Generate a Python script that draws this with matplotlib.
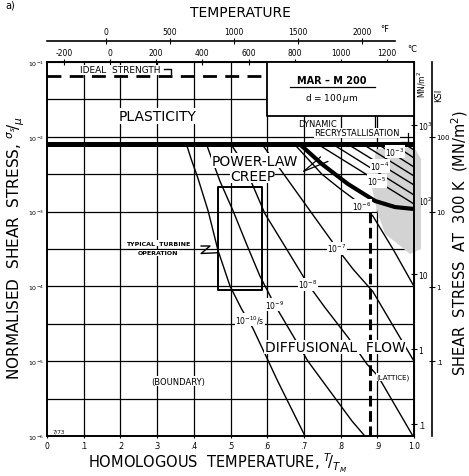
import matplotlib
matplotlib.use("Agg")
import matplotlib.pyplot as plt
import numpy as np
from matplotlib.ticker import NullLocator

plt.rcParams['font.family'] = ['DejaVu Sans']
plt.rcParams['mathtext.fontset'] = 'dejavusans'

TM = 1590.0          # melting point, K
MU = 10 ** 4.84      # shear modulus at 300 K, MN/m^2
MN_PER_KSI = 6.895

# grid
grid_x = [0.1, 0.2, 0.3, 0.4, 0.5, 0.6, 0.7, 0.8, 0.9]
grid_logs = [-1.5, -2.0, -2.5, -3.0, -3.5, -4.0, -4.5, -5.0, -5.5]

x_ticks = [0.0, 0.1, 0.2, 0.3, 0.4, 0.5, 0.6, 0.7, 0.8, 0.9, 1.0]
x_labels = ["0", ".1", ".2", ".3", ".4", ".5", ".6", ".7", ".8", ".9", "1.0"]
y_ticks = [1e-1, 1e-2, 1e-3, 1e-4, 1e-5, 1e-6]
y_labels = [r"$10^{-1}$", r"$10^{-2}$", r"$10^{-3}$", r"$10^{-4}$", r"$10^{-5}$", r"$10^{-6}$"]
c_ticks = [-200, 0, 200, 400, 600, 800, 1000, 1200]
f_ticks = [0, 500, 1000, 1500, 2000]
mn_ticks = [1e3, 1e2, 10, 1, 0.1]
mn_labels = [r"$10^3$", r"$10^2$", "10", "1", ".1"]
ksi_ticks = [100, 10, 1, 0.1, 0.01]
ksi_labels = ["100", "10", "1", ".1", ".01"]

# field boundaries (T/TM, log10 sigma_s/mu)
ideal_strength = -1.19
ideal_end = 0.594
plasticity_limit = -2.10
breakdown_x = [0.689, 0.749, 0.820, 0.894, 0.948, 1.0]
breakdown_s = [-2.10, -2.364, -2.631, -2.858, -2.939, -2.965]
lattice_x = 0.88
lattice_top = -3.0

# strain-rate contours, 1/s
rate_1e10 = [(0.380, -2.10), (0.393, -2.30), (0.411, -2.55), (0.439, -2.99), (0.466, -3.52),
             (0.499, -4.00), (0.530, -4.30), (0.561, -4.56), (0.630, -5.28), (0.703, -6.0)]
rate_1e9 = [(0.436, -2.12), (0.471, -2.59), (0.507, -2.99), (0.545, -3.45), (0.580, -3.86),
            (0.621, -4.25), (0.668, -4.64), (0.711, -5.0), (0.777, -5.44), (0.831, -5.80),
            (0.866, -6.0)]
rate_1e8 = [(0.504, -2.12), (0.531, -2.32), (0.559, -2.63), (0.594, -3.03), (0.649, -3.47),
            (0.711, -3.97), (0.757, -4.28), (0.820, -4.68), (0.872, -5.04), (0.902, -5.20),
            (0.997, -6.0)]
rate_1e7 = [(0.589, -2.12), (0.635, -2.43), (0.708, -2.93), (0.790, -3.49), (0.834, -3.77),
            (0.888, -4.07), (1.0, -5.0)]
rate_1e6 = [(0.680, -2.13), (0.749, -2.50), (0.800, -2.70), (0.855, -2.90), (0.888, -3.06),
            (0.945, -3.52), (1.0, -4.0)]

# fast contours crowding the power-law breakdown band
band_start = [0.738, 0.779, 0.820, 0.861, 0.902, 0.943, 0.975]
band_end = [-2.898, -2.778, -2.644, -2.524, -2.404, -2.283, -2.176]

grey_x = [0.896, 1.0, 1.019, 1.019, 0.989, 0.956, 0.921, 0.902, 0.886]
grey_s = [-2.163, -2.136, -2.297, -3.50, -3.567, -3.433, -3.30, -3.032, -2.698]

# typical turbine operation window
turbine_x = [0.466, 0.586]
turbine_s = [-2.67, -4.05]

fig = plt.figure(figsize=(4.69, 4.77), dpi=100)
ax = fig.add_axes([47 / 469, 40 / 477, 367 / 469, 374 / 477])
ax.set_xlim(0, 1)
ax.set_yscale('log')
ax.set_ylim(1e-6, 1e-1)

for gx in grid_x:
    ax.axvline(gx, color='black', lw=0.9, zorder=1)
for gs in grid_logs:
    ax.axhline(10 ** gs, color='black', lw=0.9, zorder=1)

# material box, top right
ax.fill_between([0.6, 1.0], 10 ** -1.722, 1e-1, facecolor='white', edgecolor='black',
                lw=1.3, zorder=3)
ax.plot([0.662, 0.894], [10 ** -1.334] * 2, color='black', lw=0.9, zorder=4)
ax.text(0.777, 10 ** -1.24, "MAR – M 200", ha='center', va='center', fontsize=7,
        fontweight='bold', zorder=4)
ax.text(0.777, 10 ** -1.48, r"d = 100$\,\mu$m", ha='center', va='center', fontsize=6.5,
        zorder=4)

# ideal strength
ax.plot([0, ideal_end], [10 ** ideal_strength] * 2, color='black', lw=2.0,
        dashes=(5, 3), zorder=3)
ax.text(0.20, 10 ** -1.105, "IDEAL  STRENGTH", ha='center', va='center', fontsize=6.5,
        zorder=4, bbox=dict(facecolor='white', edgecolor='none', pad=0.5))
ax.plot([0.318, 0.338, 0.338], [10 ** -1.10, 10 ** -1.10, 10 ** -1.16], color='black',
        lw=1.0, zorder=4)

# plasticity limit and power-law breakdown
ax.plot([0, 1], [10 ** plasticity_limit] * 2, color='black', lw=3.6, zorder=5,
        solid_capstyle='butt')
ax.fill(grey_x, 10 ** np.array(grey_s), facecolor='#d3d3d3', edgecolor='none', zorder=2,
        clip_on=False)
for xs, se in zip(band_start, band_end):
    ax.plot([xs, 1.0], [10 ** plasticity_limit, 10 ** se], color='black', lw=1.0, zorder=3)
ax.plot(breakdown_x, 10 ** np.array(breakdown_s), color='black', lw=3.0, zorder=5,
        solid_capstyle='butt')

for pts in [rate_1e10, rate_1e9, rate_1e8, rate_1e7, rate_1e6]:
    px, ps = zip(*pts)
    ax.plot(px, 10 ** np.array(ps), color='black', lw=1.0, zorder=3)

ax.plot([lattice_x, lattice_x], [10 ** lattice_top, 1e-6], color='black', lw=2.2,
        dashes=(3.5, 1.5), zorder=4)

ax.fill_between(turbine_x, 10 ** turbine_s[1], 10 ** turbine_s[0], facecolor='none',
                edgecolor='black', lw=1.4, zorder=4)
ax.plot([0.420, 0.444, 0.420, 0.466], [10 ** -3.46, 10 ** -3.46, 10 ** -3.56, 10 ** -3.55],
        color='black', lw=1.0, zorder=4)

# dynamic recrystallisation marks
ax.plot([0.894, 0.894], [10 ** -1.722, 10 ** -1.90], color='black', lw=0.9, zorder=4)
ax.plot([0.985, 0.985, 0.965], [10 ** -1.95, 10 ** -2.07, 10 ** -2.07], color='black',
        lw=0.9, zorder=4)

# power-law leaders
ax.plot([0.700, 0.765], [10 ** -2.46, 10 ** -2.33], color='black', lw=0.9, zorder=4)
ax.plot([0.700, 0.745], [10 ** -2.46, 10 ** -2.27], color='black', lw=0.9, zorder=4)

wbox = dict(facecolor='white', edgecolor='none', pad=0.6)
ax.text(0.30, 10 ** -1.72, "PLASTICITY", ha='center', va='center', fontsize=10, zorder=6,
        bbox=wbox)
ax.text(0.565, 10 ** -2.32, "POWER-LAW", ha='center', va='center', fontsize=10, zorder=6,
        bbox=dict(facecolor='white', edgecolor='none', pad=0.2))
ax.text(0.560, 10 ** -2.52, "CREEP", ha='center', va='center', fontsize=10, zorder=6,
        bbox=dict(facecolor='white', edgecolor='none', pad=0.2))
ax.text(0.785, 10 ** -4.81, "DIFFUSIONAL  FLOW", ha='center', va='center', fontsize=10,
        zorder=6, bbox=dict(facecolor='white', edgecolor='none', pad=0.2))
ax.text(0.357, 10 ** -5.265, "(BOUNDARY)", ha='center', va='center', fontsize=6, zorder=6,
        bbox=wbox)
ax.text(0.942, 10 ** -5.21, "(LATTICE)", ha='center', va='center', fontsize=5, zorder=6,
        bbox=dict(facecolor='white', edgecolor='none', pad=0.3))
ax.text(0.738, 10 ** -1.816, "DYNAMIC", ha='center', va='center', fontsize=6, zorder=6)
ax.text(0.845, 10 ** -1.949, "RECRYSTALLISATION", ha='center', va='center', fontsize=6,
        zorder=6, bbox=dict(facecolor='white', edgecolor='none', pad=0.3))
ax.text(0.302, 10 ** -3.42, "TYPICAL  TURBINE", ha='center', va='center', fontsize=4.5,
        fontweight='bold', zorder=6, bbox=dict(facecolor='white', edgecolor='none', pad=0.4))
ax.text(0.302, 10 ** -3.553, "OPERATION", ha='center', va='center', fontsize=4.5,
        fontweight='bold', zorder=6, bbox=dict(facecolor='white', edgecolor='none', pad=0.4))
ax.text(0.033, 10 ** -5.93, "7/73", ha='center', va='center', fontsize=4, zorder=6)

rate_labels = [(0.553, -4.44, r"$10^{-10}$/s"), (0.621, -4.24, r"$10^{-9}$"),
               (0.711, -3.97, r"$10^{-8}$"), (0.790, -3.49, r"$10^{-7}$"),
               (0.858, -2.92, r"$10^{-6}$"), (0.898, -2.59, r"$10^{-5}$"),
               (0.907, -2.39, r"$10^{-4}$"), (0.948, -2.20, r"$10^{-3}$")]
for lx, ls, lt in rate_labels:
    ax.text(lx, 10 ** ls, lt, ha='center', va='center', fontsize=5.5, zorder=6,
            bbox=dict(facecolor='white', edgecolor='none', pad=0.3))

# main axes ticks
ax.set_xticks(x_ticks, labels=x_labels)
ax.set_yticks(y_ticks, labels=y_labels)
ax.yaxis.set_minor_locator(NullLocator())
ax.tick_params(labelsize=5.5, length=3, width=0.8, direction='inout', pad=2)
ax.tick_params(axis='y', labelsize=4.5, length=2, pad=1)
for sp in ax.spines.values():
    sp.set_linewidth(1.4)

# temperature scales along the top
sec_c = ax.secondary_xaxis('top', functions=(lambda t: t * TM - 273.15,
                                             lambda c: (c + 273.15) / TM))
sec_c.set_xticks(c_ticks, labels=[str(c) for c in c_ticks])
sec_c.tick_params(labelsize=5.5, length=5, width=0.8, direction='inout', pad=1)

sec_f = ax.secondary_xaxis(1.056, functions=(lambda t: (t * TM - 273.15) * 9 / 5 + 32,
                                             lambda f: ((f - 32) * 5 / 9 + 273.15) / TM))
sec_f.set_xticks(f_ticks, labels=[str(f) for f in f_ticks])
sec_f.tick_params(labelsize=5.5, length=5, width=0.8, direction='inout', pad=1)
sec_f.spines['top'].set_bounds(-459.67, 2255)
sec_f.spines['top'].set_linewidth(1.2)

# stress scales at 300 K on the right
sec_mn = ax.secondary_yaxis('right', functions=(lambda s: s * MU, lambda m: m / MU))
sec_mn.set_yticks(mn_ticks, labels=mn_labels)
sec_mn.yaxis.set_minor_locator(NullLocator())
sec_mn.tick_params(labelsize=5.5, length=4, width=0.8, direction='inout', pad=1)

sec_k = ax.secondary_yaxis(1.049, functions=(lambda s: s * MU / MN_PER_KSI,
                                            lambda k: k * MN_PER_KSI / MU))
sec_k.set_yticks(ksi_ticks, labels=ksi_labels)
sec_k.yaxis.set_minor_locator(NullLocator())
sec_k.tick_params(labelsize=5, length=4, width=0.8, direction='inout', pad=1)
sec_k.spines['right'].set_linewidth(1.2)

# outer labels
fig.text(240 / 469, 1 - 13 / 477, "TEMPERATURE", ha='center', va='center', fontsize=10)
fig.text(385 / 469, 1 - 30 / 477, "°F", ha='center', va='center', fontsize=6)
fig.text(412 / 469, 1 - 50 / 477, "°C", ha='center', va='center', fontsize=6)
fig.text(422 / 469, 1 - 84 / 477, r"MN/m$^2$", ha='center', va='center', fontsize=5.5,
         rotation=90)
fig.text(439 / 469, 1 - 95 / 477, "KSI", ha='center', va='center', fontsize=6, rotation=90)
fig.text(10 / 469, 1 - 6 / 477, "a)", ha='center', va='center', fontsize=7)
fig.text(218 / 469, 1 - 463 / 477, r"HOMOLOGOUS  TEMPERATURE, $^{T}\!/_{T_M}$",
         ha='center', va='center', fontsize=10.5)
fig.text(16 / 469, 1 - 248 / 477, r"NORMALISED  SHEAR  STRESS, $^{\sigma_s}\!/_{\mu}$",
         ha='center', va='center', fontsize=11, rotation=90)
fig.text(460 / 469, 1 - 243 / 477, r"SHEAR  STRESS  AT  300 K  (MN/m$^2$)",
         ha='center', va='center', fontsize=10.5, rotation=90)

fig.savefig("out.png", dpi=100)
